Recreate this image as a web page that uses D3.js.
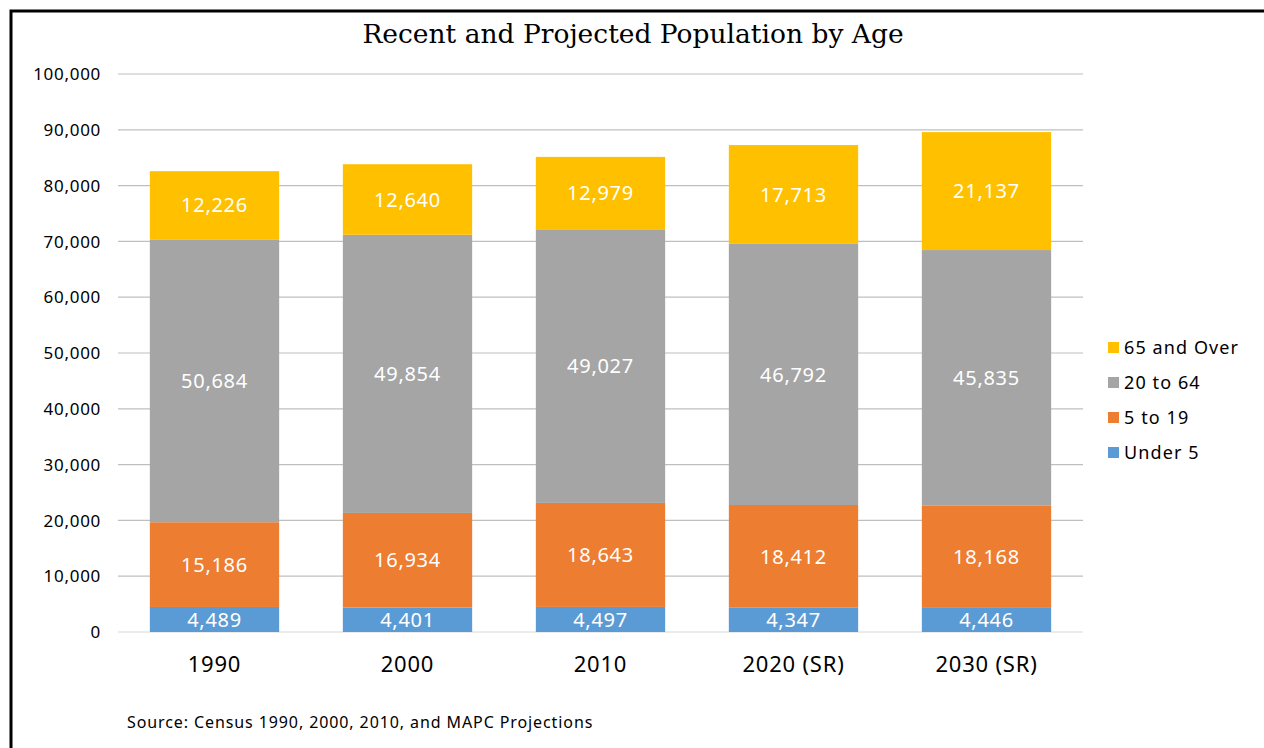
<!DOCTYPE html>
<html>
<head>
<meta charset="utf-8">
<script src="https://cdn.jsdelivr.net/npm/d3@7.9.0/dist/d3.min.js"></script>
<style>
  body { margin: 0; background: #fff; }
  svg { display: block; font-family: "Noto Sans", sans-serif; }
</style>
</head>
<body>
<svg id="chart" width="1264" height="748"></svg>
<script>
const years = ['1990', '2000', '2010', '2020 (SR)', '2030 (SR)'];
const seriesNames = ['Under 5', '5 to 19', '20 to 64', '65 and Over'];
const under5 = [4489, 4401, 4497, 4347, 4446];
const age5to19 = [15186, 16934, 18643, 18412, 18168];
const age20to64 = [50684, 49854, 49027, 46792, 45835];
const age65plus = [12226, 12640, 12979, 17713, 21137];
const colors = ['#5B9BD5', '#ED7D31', '#A5A5A5', '#FFC000'];
const yTicks = [0, 10000, 20000, 30000, 40000, 50000, 60000, 70000, 80000, 90000, 100000];

const rows = years.map((y, i) => ({
  year: y,
  'Under 5': under5[i],
  '5 to 19': age5to19[i],
  '20 to 64': age20to64[i],
  '65 and Over': age65plus[i]
}));

const svg = d3.select('#chart');
const plotLeft = 118, plotRight = 1083, plotTop = 74, plotBottom = 632;

// frame lines (top and left)
svg.append('path')
  .attr('d', 'M11,748 L11,11 L1264,11')
  .attr('fill', 'none')
  .attr('stroke', '#000')
  .attr('stroke-width', 3);

const x = d3.scaleBand().domain(years).range([plotLeft, plotRight]).paddingInner(0.33).paddingOuter(0.165);
const y = d3.scaleLinear().domain([0, 100000]).range([plotBottom, plotTop]);

// gridlines
svg.append('g')
  .selectAll('line')
  .data(yTicks)
  .join('line')
  .attr('x1', plotLeft).attr('x2', plotRight)
  .attr('y1', d => y(d)).attr('y2', d => y(d))
  .attr('stroke', d => d === 0 ? '#d9d9d9' : '#bfbfbf')
  .attr('stroke-width', 1.2);

// y tick labels
svg.append('g')
  .selectAll('text')
  .data(yTicks)
  .join('text')
  .attr('x', 101)
  .attr('y', d => y(d))
  .attr('dy', '0.36em')
  .attr('text-anchor', 'end')
  .attr('font-size', 17)
  .attr('letter-spacing', 0.7)
  .attr('fill', '#000')
  .text(d => d3.format(',')(d));

const stacked = d3.stack().keys(seriesNames)(rows);

const layers = svg.append('g')
  .selectAll('g')
  .data(stacked)
  .join('g')
  .attr('fill', (d, i) => colors[i]);

layers.selectAll('rect')
  .data(d => d)
  .join('rect')
  .attr('x', d => x(d.data.year))
  .attr('width', x.bandwidth())
  .attr('y', d => y(d[1]))
  .attr('height', d => y(d[0]) - y(d[1]));

layers.selectAll('text')
  .data(d => d)
  .join('text')
  .attr('x', d => x(d.data.year) + x.bandwidth() / 2)
  .attr('y', d => (y(d[0]) + y(d[1])) / 2)
  .attr('dy', '0.36em')
  .attr('text-anchor', 'middle')
  .attr('font-size', 20)
  .attr('letter-spacing', 0.7)
  .attr('fill', '#fff')
  .text(d => d3.format(',')(d[1] - d[0]));

// x labels
svg.append('g')
  .selectAll('text')
  .data(years)
  .join('text')
  .attr('x', d => x(d) + x.bandwidth() / 2)
  .attr('y', 664)
  .attr('dy', '0.36em')
  .attr('text-anchor', 'middle')
  .attr('font-size', 22)
  .attr('letter-spacing', 0.8)
  .attr('fill', '#000')
  .text(d => d);

// title
svg.append('text')
  .attr('x', 633)
  .attr('y', 33)
  .attr('dy', '0.36em')
  .attr('text-anchor', 'middle')
  .attr('font-family', '"DejaVu Serif", serif')
  .attr('font-size', 26.5)
  .attr('fill', '#000')
  .text('Recent and Projected Population by Age');

// legend (top item is 65 and Over)
const legendOrder = seriesNames.slice().reverse();
const legend = svg.append('g')
  .selectAll('g')
  .data(legendOrder)
  .join('g')
  .attr('transform', (d, i) => `translate(1108, ${348 + i * 35})`);

legend.append('rect')
  .attr('x', 0).attr('y', -6)
  .attr('width', 11).attr('height', 11)
  .attr('fill', d => colors[seriesNames.indexOf(d)]);

legend.append('text')
  .attr('x', 16)
  .attr('y', 0)
  .attr('dy', '0.36em')
  .attr('font-size', 18)
  .attr('letter-spacing', 1.1)
  .attr('fill', '#000')
  .text(d => d);

// source note
svg.append('text')
  .attr('x', 127)
  .attr('y', 722)
  .attr('dy', '0.36em')
  .attr('font-size', 16)
  .attr('letter-spacing', 0.9)
  .attr('fill', '#000')
  .text('Source: Census 1990, 2000, 2010, and MAPC Projections');
</script>
</body>
</html>
